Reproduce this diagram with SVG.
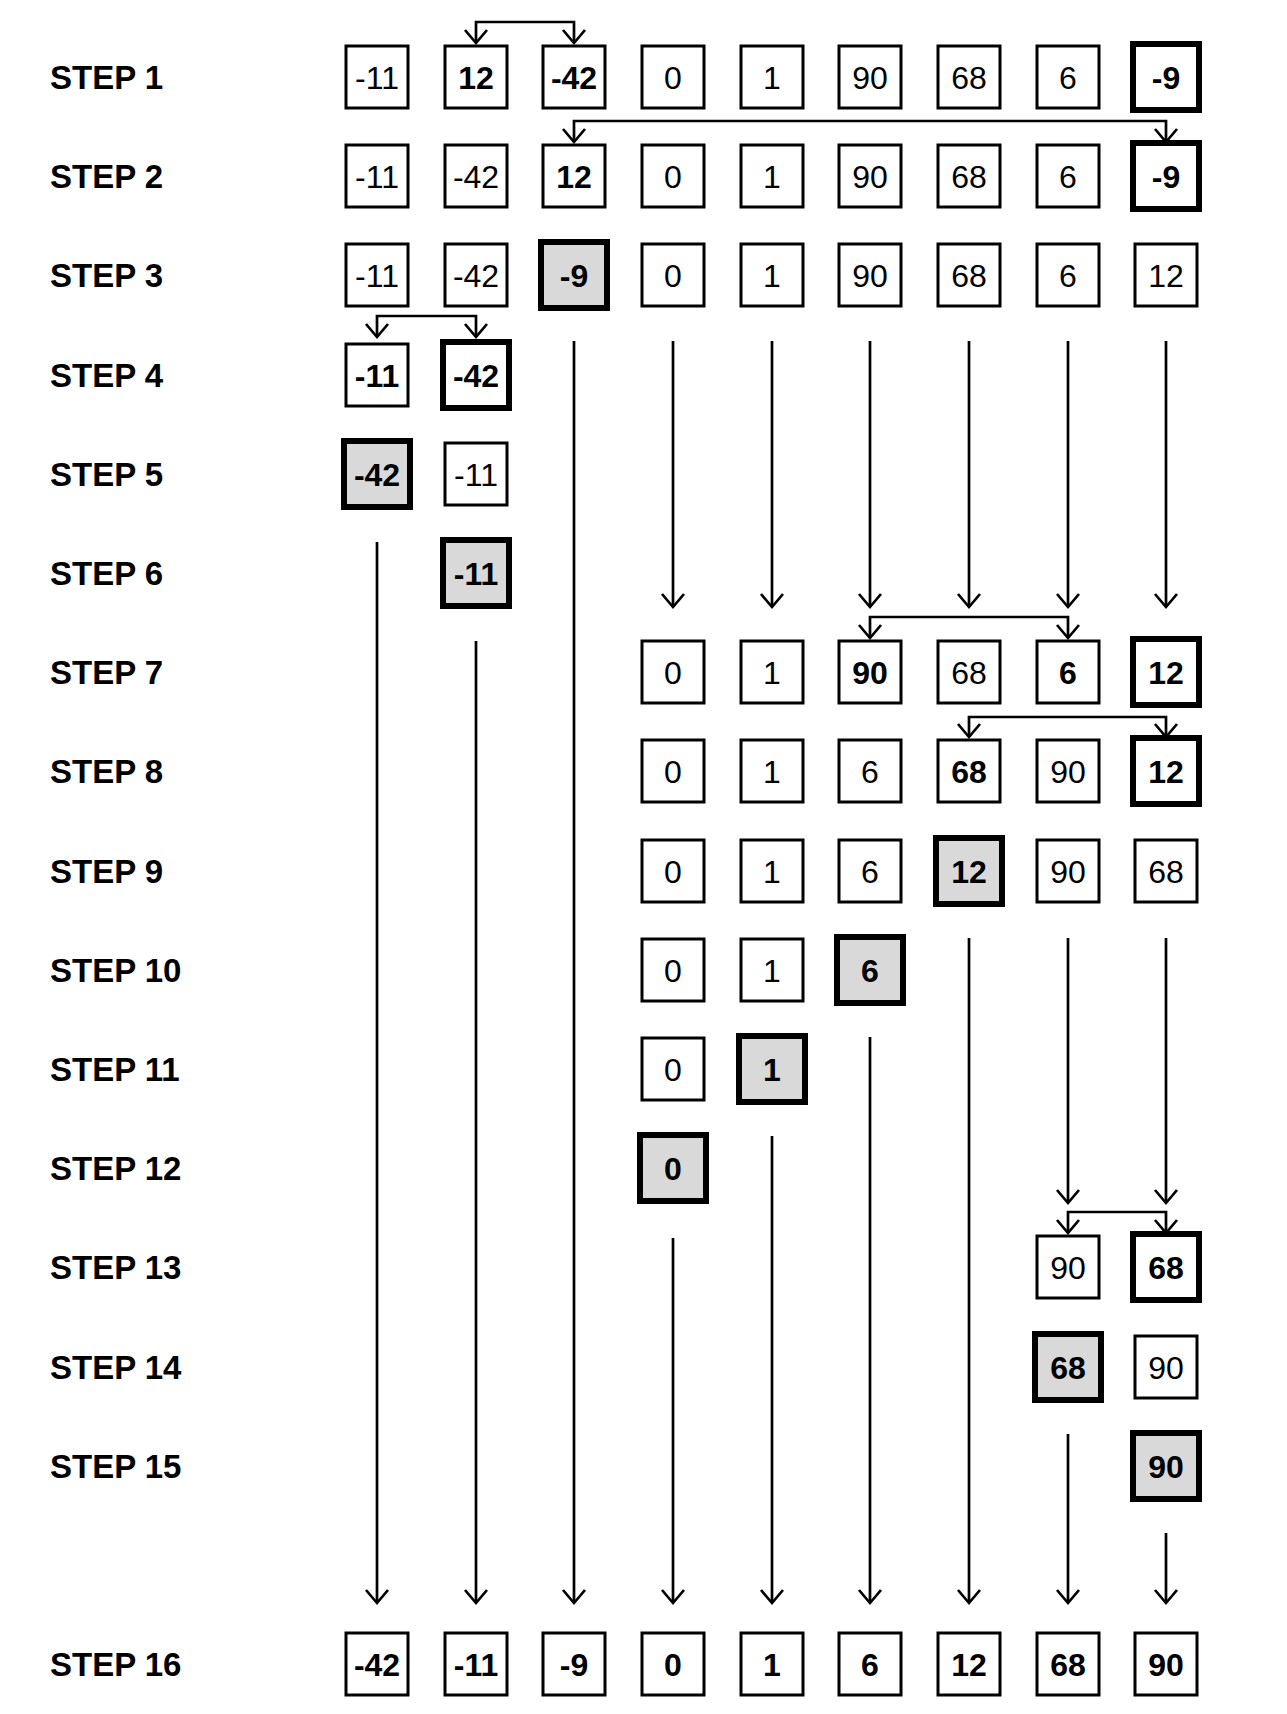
<svg xmlns="http://www.w3.org/2000/svg" width="1287" height="1714" viewBox="0 0 1287 1714">
<style>
.box{fill:#fff;stroke:#000;stroke-width:3}
.t{stroke-width:6}
.g{fill:#d9d9d9}
.n{font-family:"Liberation Sans",Arial,sans-serif;font-size:32px;text-anchor:middle;fill:#000}
.b{font-weight:bold}
.lbl{font-family:"Liberation Sans",Arial,sans-serif;font-size:33px;font-weight:bold;fill:#000}
.c{fill:none;stroke:#000;stroke-width:2.7;marker-end:url(#arr)}
.br{marker-start:url(#arr)}
</style>
<defs>
<marker id="arr" viewBox="-16 -14 19 28" refX="0" refY="0" markerWidth="19" markerHeight="28" markerUnits="userSpaceOnUse" orient="auto-start-reverse">
<path d="M-13,-11 L0,0 L-13,11" fill="none" stroke="#000" stroke-width="2.7"/>
</marker>
</defs>
<rect x="0" y="0" width="1287" height="1714" fill="#fff"/>
<g id="labels">
<text class="lbl" x="50" y="89">STEP 1</text>
<text class="lbl" x="50" y="188">STEP 2</text>
<text class="lbl" x="50" y="287">STEP 3</text>
<text class="lbl" x="50" y="387">STEP 4</text>
<text class="lbl" x="50" y="486">STEP 5</text>
<text class="lbl" x="50" y="585">STEP 6</text>
<text class="lbl" x="50" y="684">STEP 7</text>
<text class="lbl" x="50" y="783">STEP 8</text>
<text class="lbl" x="50" y="883">STEP 9</text>
<text class="lbl" x="50" y="982">STEP 10</text>
<text class="lbl" x="50" y="1081">STEP 11</text>
<text class="lbl" x="50" y="1180">STEP 12</text>
<text class="lbl" x="50" y="1279">STEP 13</text>
<text class="lbl" x="50" y="1379">STEP 14</text>
<text class="lbl" x="50" y="1478">STEP 15</text>
<text class="lbl" x="50" y="1676">STEP 16</text>
</g>
<g id="connectors">
<path class="c" d="M574,341 V1603"/>
<path class="c" d="M673,341 V607"/>
<path class="c" d="M772,341 V607"/>
<path class="c" d="M870,341 V607"/>
<path class="c" d="M969,341 V607"/>
<path class="c" d="M1068,341 V607"/>
<path class="c" d="M1166,341 V607"/>
<path class="c" d="M377,542 V1603"/>
<path class="c" d="M476,641 V1603"/>
<path class="c" d="M673,1238 V1603"/>
<path class="c" d="M772,1136 V1603"/>
<path class="c" d="M870,1037 V1603"/>
<path class="c" d="M969,938 V1603"/>
<path class="c" d="M1068,938 V1203"/>
<path class="c" d="M1068,1434 V1603"/>
<path class="c" d="M1166,938 V1203"/>
<path class="c" d="M1166,1533 V1603"/>
<path class="c br" d="M476,43 V22 H574 V43"/>
<path class="c br" d="M574,142 V121 H1166 V142"/>
<path class="c br" d="M377,337 V316 H476 V337"/>
<path class="c br" d="M870,638 V617 H1068 V638"/>
<path class="c br" d="M969,737 V717 H1166 V737"/>
<path class="c br" d="M1068,1233 V1212 H1166 V1233"/>
</g>
<!-- STEP 1 -->
<g id="s1c1" transform="translate(377,77)"><rect class="box" x="-31" y="-31" width="62" height="62"/><text class="n" y="11.5">-11</text></g>
<g id="s1c2" transform="translate(476,77)"><rect class="box" x="-31" y="-31" width="62" height="62"/><text class="n b" y="11.5">12</text></g>
<g id="s1c3" transform="translate(574,77)"><rect class="box" x="-31" y="-31" width="62" height="62"/><text class="n b" y="11.5">-42</text></g>
<g id="s1c4" transform="translate(673,77)"><rect class="box" x="-31" y="-31" width="62" height="62"/><text class="n" y="11.5">0</text></g>
<g id="s1c5" transform="translate(772,77)"><rect class="box" x="-31" y="-31" width="62" height="62"/><text class="n" y="11.5">1</text></g>
<g id="s1c6" transform="translate(870,77)"><rect class="box" x="-31" y="-31" width="62" height="62"/><text class="n" y="11.5">90</text></g>
<g id="s1c7" transform="translate(969,77)"><rect class="box" x="-31" y="-31" width="62" height="62"/><text class="n" y="11.5">68</text></g>
<g id="s1c8" transform="translate(1068,77)"><rect class="box" x="-31" y="-31" width="62" height="62"/><text class="n" y="11.5">6</text></g>
<g id="s1c9" transform="translate(1166,77)"><rect class="box t" x="-33" y="-33" width="66" height="66"/><text class="n b" y="11.5">-9</text></g>
<!-- STEP 2 -->
<g id="s2c1" transform="translate(377,176)"><rect class="box" x="-31" y="-31" width="62" height="62"/><text class="n" y="11.5">-11</text></g>
<g id="s2c2" transform="translate(476,176)"><rect class="box" x="-31" y="-31" width="62" height="62"/><text class="n" y="11.5">-42</text></g>
<g id="s2c3" transform="translate(574,176)"><rect class="box" x="-31" y="-31" width="62" height="62"/><text class="n b" y="11.5">12</text></g>
<g id="s2c4" transform="translate(673,176)"><rect class="box" x="-31" y="-31" width="62" height="62"/><text class="n" y="11.5">0</text></g>
<g id="s2c5" transform="translate(772,176)"><rect class="box" x="-31" y="-31" width="62" height="62"/><text class="n" y="11.5">1</text></g>
<g id="s2c6" transform="translate(870,176)"><rect class="box" x="-31" y="-31" width="62" height="62"/><text class="n" y="11.5">90</text></g>
<g id="s2c7" transform="translate(969,176)"><rect class="box" x="-31" y="-31" width="62" height="62"/><text class="n" y="11.5">68</text></g>
<g id="s2c8" transform="translate(1068,176)"><rect class="box" x="-31" y="-31" width="62" height="62"/><text class="n" y="11.5">6</text></g>
<g id="s2c9" transform="translate(1166,176)"><rect class="box t" x="-33" y="-33" width="66" height="66"/><text class="n b" y="11.5">-9</text></g>
<!-- STEP 3 -->
<g id="s3c1" transform="translate(377,275)"><rect class="box" x="-31" y="-31" width="62" height="62"/><text class="n" y="11.5">-11</text></g>
<g id="s3c2" transform="translate(476,275)"><rect class="box" x="-31" y="-31" width="62" height="62"/><text class="n" y="11.5">-42</text></g>
<g id="s3c3" transform="translate(574,275)"><rect class="box t g" x="-33" y="-33" width="66" height="66"/><text class="n b" y="11.5">-9</text></g>
<g id="s3c4" transform="translate(673,275)"><rect class="box" x="-31" y="-31" width="62" height="62"/><text class="n" y="11.5">0</text></g>
<g id="s3c5" transform="translate(772,275)"><rect class="box" x="-31" y="-31" width="62" height="62"/><text class="n" y="11.5">1</text></g>
<g id="s3c6" transform="translate(870,275)"><rect class="box" x="-31" y="-31" width="62" height="62"/><text class="n" y="11.5">90</text></g>
<g id="s3c7" transform="translate(969,275)"><rect class="box" x="-31" y="-31" width="62" height="62"/><text class="n" y="11.5">68</text></g>
<g id="s3c8" transform="translate(1068,275)"><rect class="box" x="-31" y="-31" width="62" height="62"/><text class="n" y="11.5">6</text></g>
<g id="s3c9" transform="translate(1166,275)"><rect class="box" x="-31" y="-31" width="62" height="62"/><text class="n" y="11.5">12</text></g>
<!-- STEP 4 -->
<g id="s4c1" transform="translate(377,375)"><rect class="box" x="-31" y="-31" width="62" height="62"/><text class="n b" y="11.5">-11</text></g>
<g id="s4c2" transform="translate(476,375)"><rect class="box t" x="-33" y="-33" width="66" height="66"/><text class="n b" y="11.5">-42</text></g>
<!-- STEP 5 -->
<g id="s5c1" transform="translate(377,474)"><rect class="box t g" x="-33" y="-33" width="66" height="66"/><text class="n b" y="11.5">-42</text></g>
<g id="s5c2" transform="translate(476,474)"><rect class="box" x="-31" y="-31" width="62" height="62"/><text class="n" y="11.5">-11</text></g>
<!-- STEP 6 -->
<g id="s6c2" transform="translate(476,573)"><rect class="box t g" x="-33" y="-33" width="66" height="66"/><text class="n b" y="11.5">-11</text></g>
<!-- STEP 7 -->
<g id="s7c4" transform="translate(673,672)"><rect class="box" x="-31" y="-31" width="62" height="62"/><text class="n" y="11.5">0</text></g>
<g id="s7c5" transform="translate(772,672)"><rect class="box" x="-31" y="-31" width="62" height="62"/><text class="n" y="11.5">1</text></g>
<g id="s7c6" transform="translate(870,672)"><rect class="box" x="-31" y="-31" width="62" height="62"/><text class="n b" y="11.5">90</text></g>
<g id="s7c7" transform="translate(969,672)"><rect class="box" x="-31" y="-31" width="62" height="62"/><text class="n" y="11.5">68</text></g>
<g id="s7c8" transform="translate(1068,672)"><rect class="box" x="-31" y="-31" width="62" height="62"/><text class="n b" y="11.5">6</text></g>
<g id="s7c9" transform="translate(1166,672)"><rect class="box t" x="-33" y="-33" width="66" height="66"/><text class="n b" y="11.5">12</text></g>
<!-- STEP 8 -->
<g id="s8c4" transform="translate(673,771)"><rect class="box" x="-31" y="-31" width="62" height="62"/><text class="n" y="11.5">0</text></g>
<g id="s8c5" transform="translate(772,771)"><rect class="box" x="-31" y="-31" width="62" height="62"/><text class="n" y="11.5">1</text></g>
<g id="s8c6" transform="translate(870,771)"><rect class="box" x="-31" y="-31" width="62" height="62"/><text class="n" y="11.5">6</text></g>
<g id="s8c7" transform="translate(969,771)"><rect class="box" x="-31" y="-31" width="62" height="62"/><text class="n b" y="11.5">68</text></g>
<g id="s8c8" transform="translate(1068,771)"><rect class="box" x="-31" y="-31" width="62" height="62"/><text class="n" y="11.5">90</text></g>
<g id="s8c9" transform="translate(1166,771)"><rect class="box t" x="-33" y="-33" width="66" height="66"/><text class="n b" y="11.5">12</text></g>
<!-- STEP 9 -->
<g id="s9c4" transform="translate(673,871)"><rect class="box" x="-31" y="-31" width="62" height="62"/><text class="n" y="11.5">0</text></g>
<g id="s9c5" transform="translate(772,871)"><rect class="box" x="-31" y="-31" width="62" height="62"/><text class="n" y="11.5">1</text></g>
<g id="s9c6" transform="translate(870,871)"><rect class="box" x="-31" y="-31" width="62" height="62"/><text class="n" y="11.5">6</text></g>
<g id="s9c7" transform="translate(969,871)"><rect class="box t g" x="-33" y="-33" width="66" height="66"/><text class="n b" y="11.5">12</text></g>
<g id="s9c8" transform="translate(1068,871)"><rect class="box" x="-31" y="-31" width="62" height="62"/><text class="n" y="11.5">90</text></g>
<g id="s9c9" transform="translate(1166,871)"><rect class="box" x="-31" y="-31" width="62" height="62"/><text class="n" y="11.5">68</text></g>
<!-- STEP 10 -->
<g id="s10c4" transform="translate(673,970)"><rect class="box" x="-31" y="-31" width="62" height="62"/><text class="n" y="11.5">0</text></g>
<g id="s10c5" transform="translate(772,970)"><rect class="box" x="-31" y="-31" width="62" height="62"/><text class="n" y="11.5">1</text></g>
<g id="s10c6" transform="translate(870,970)"><rect class="box t g" x="-33" y="-33" width="66" height="66"/><text class="n b" y="11.5">6</text></g>
<!-- STEP 11 -->
<g id="s11c4" transform="translate(673,1069)"><rect class="box" x="-31" y="-31" width="62" height="62"/><text class="n" y="11.5">0</text></g>
<g id="s11c5" transform="translate(772,1069)"><rect class="box t g" x="-33" y="-33" width="66" height="66"/><text class="n b" y="11.5">1</text></g>
<!-- STEP 12 -->
<g id="s12c4" transform="translate(673,1168)"><rect class="box t g" x="-33" y="-33" width="66" height="66"/><text class="n b" y="11.5">0</text></g>
<!-- STEP 13 -->
<g id="s13c8" transform="translate(1068,1267)"><rect class="box" x="-31" y="-31" width="62" height="62"/><text class="n" y="11.5">90</text></g>
<g id="s13c9" transform="translate(1166,1267)"><rect class="box t" x="-33" y="-33" width="66" height="66"/><text class="n b" y="11.5">68</text></g>
<!-- STEP 14 -->
<g id="s14c8" transform="translate(1068,1367)"><rect class="box t g" x="-33" y="-33" width="66" height="66"/><text class="n b" y="11.5">68</text></g>
<g id="s14c9" transform="translate(1166,1367)"><rect class="box" x="-31" y="-31" width="62" height="62"/><text class="n" y="11.5">90</text></g>
<!-- STEP 15 -->
<g id="s15c9" transform="translate(1166,1466)"><rect class="box t g" x="-33" y="-33" width="66" height="66"/><text class="n b" y="11.5">90</text></g>
<!-- STEP 16 -->
<g id="s16c1" transform="translate(377,1664)"><rect class="box" x="-31" y="-31" width="62" height="62"/><text class="n b" y="11.5">-42</text></g>
<g id="s16c2" transform="translate(476,1664)"><rect class="box" x="-31" y="-31" width="62" height="62"/><text class="n b" y="11.5">-11</text></g>
<g id="s16c3" transform="translate(574,1664)"><rect class="box" x="-31" y="-31" width="62" height="62"/><text class="n b" y="11.5">-9</text></g>
<g id="s16c4" transform="translate(673,1664)"><rect class="box" x="-31" y="-31" width="62" height="62"/><text class="n b" y="11.5">0</text></g>
<g id="s16c5" transform="translate(772,1664)"><rect class="box" x="-31" y="-31" width="62" height="62"/><text class="n b" y="11.5">1</text></g>
<g id="s16c6" transform="translate(870,1664)"><rect class="box" x="-31" y="-31" width="62" height="62"/><text class="n b" y="11.5">6</text></g>
<g id="s16c7" transform="translate(969,1664)"><rect class="box" x="-31" y="-31" width="62" height="62"/><text class="n b" y="11.5">12</text></g>
<g id="s16c8" transform="translate(1068,1664)"><rect class="box" x="-31" y="-31" width="62" height="62"/><text class="n b" y="11.5">68</text></g>
<g id="s16c9" transform="translate(1166,1664)"><rect class="box" x="-31" y="-31" width="62" height="62"/><text class="n b" y="11.5">90</text></g>
</svg>
